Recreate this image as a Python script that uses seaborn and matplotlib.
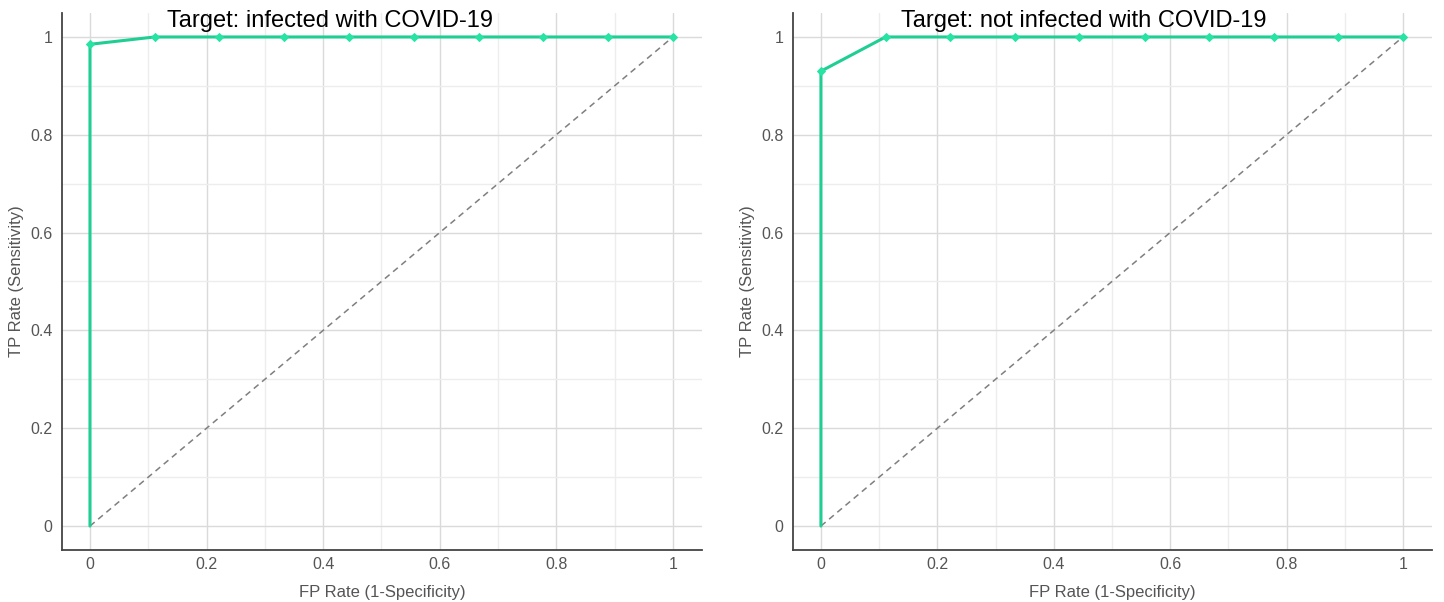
import matplotlib
matplotlib.use("Agg")
import matplotlib.pyplot as plt
import seaborn as sns
import pandas as pd
from matplotlib.ticker import MultipleLocator

sns.set_theme(style="white")
plt.rcParams['font.family'] = ['Liberation Sans', 'DejaVu Sans']

titles = ["Target: infected with COVID-19", "Target: not infected with COVID-19"]
fpr = [0.0, 0.0, 0.111, 0.222, 0.333, 0.444, 0.556, 0.667, 0.778, 0.889, 1.0]
tpr_infected = [0.0, 0.985, 1.0, 1.0, 1.0, 1.0, 1.0, 1.0, 1.0, 1.0, 1.0]
tpr_not_infected = [0.0, 0.93, 1.0, 1.0, 1.0, 1.0, 1.0, 1.0, 1.0, 1.0, 1.0]
tick_vals = [0, 0.2, 0.4, 0.6, 0.8, 1]
tick_labels = ["0", "0.2", "0.4", "0.6", "0.8", "1"]
chance = [0, 1]

fig = plt.figure(figsize=(14.44, 6.02), dpi=100)
axes_pos = [
    [62/1444, 1-550/602, (702-62)/1444, (550-13)/602],
    [793/1444, 1-550/602, (1432-793)/1444, (550-13)/602],
]
title_x = [330/1444, 1084/1444]
series = [tpr_infected, tpr_not_infected]
line_color = "#1fce93"
marker_color = "#27e3a4"

for i in range(2):
    ax = fig.add_axes(axes_pos[i])
    df = pd.DataFrame({"fpr": fpr, "tpr": series[i]})
    ax.plot(chance, chance, linestyle=(0, (4, 3)), color="#7f7f7f", lw=1.1, zorder=2)
    sns.lineplot(data=df, x="fpr", y="tpr", ax=ax, estimator=None, sort=False,
                 color=line_color, lw=2.2, zorder=3,
                 marker="D", markersize=4.5, markerfacecolor=marker_color,
                 markeredgecolor=marker_color, markevery=list(range(1, len(fpr))))
    ax.set_xlim(-0.048, 1.05)
    ax.set_ylim(-0.049, 1.049)
    ax.xaxis.set_minor_locator(MultipleLocator(0.1))
    ax.yaxis.set_minor_locator(MultipleLocator(0.1))
    ax.set_xticks(tick_vals)
    ax.set_xticklabels(tick_labels)
    ax.set_yticks(tick_vals)
    ax.set_yticklabels(tick_labels)
    ax.grid(which="major", color="#dadada", lw=1.0, zorder=0)
    ax.grid(which="minor", color="#ededed", lw=1.0, zorder=0)
    ax.set_axisbelow(True)
    ax.tick_params(which="both", length=0, labelsize=11.5, colors="#555555")
    ax.tick_params(axis="x", pad=5)
    ax.tick_params(axis="y", pad=7)
    for s in ["top", "right"]:
        ax.spines[s].set_visible(False)
    for s in ["left", "bottom"]:
        ax.spines[s].set_color("#444444")
        ax.spines[s].set_linewidth(1.3)
    ax.set_xlabel("FP Rate (1-Specificity)", fontsize=12, color="#555555")
    ax.set_ylabel("TP Rate (Sensitivity)", fontsize=12, color="#555555")
    ax.xaxis.set_label_coords(0.5, -0.065)
    ax.yaxis.set_label_coords(-0.059, 0.5)
    fig.text(title_x[i], 1-21/602, titles[i], ha="center", va="center", fontsize=17, color="black")

fig.savefig("out.png", dpi=100)
